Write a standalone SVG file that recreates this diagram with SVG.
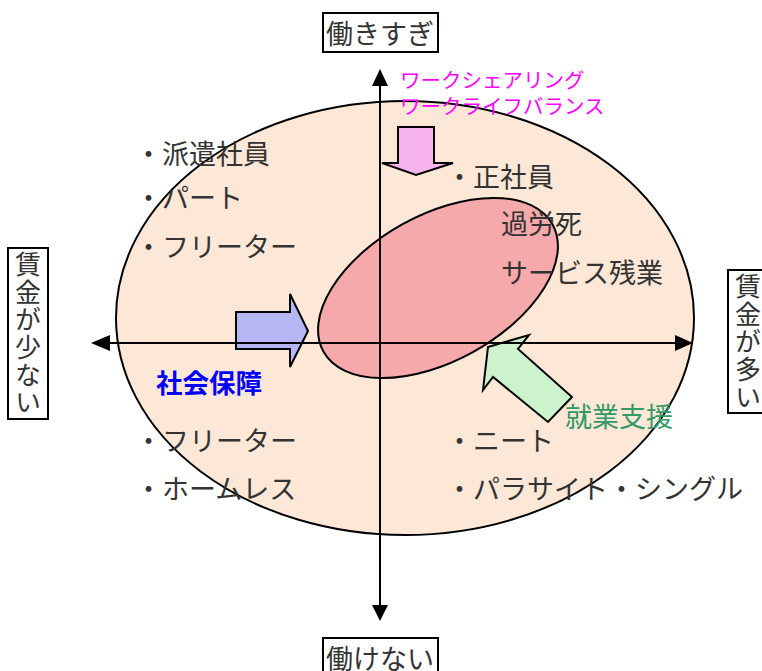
<svg xmlns="http://www.w3.org/2000/svg" width="762" height="671" viewBox="0 0 762 671">
<style>
.t{font-family:"Noto Sans CJK JP","Noto Sans",sans-serif;font-size:27px;fill:#333;}
.v{font-family:"Noto Sans CJK JP","Noto Sans",sans-serif;font-size:26px;fill:#333;writing-mode:vertical-rl;letter-spacing:1.7px;}
.m{font-family:"Noto Sans CJK JP","Noto Sans",sans-serif;font-size:20.5px;fill:#ff00ff;}
.box{fill:#fff;stroke:#000;stroke-width:2;}
.ax{stroke:#000;stroke-width:2;fill:none;}
.arr{stroke:#000;stroke-width:2;stroke-linejoin:miter;}
</style>
<rect width="762" height="671" fill="#fff"/>

<g id="outer-ellipse">
<ellipse cx="405" cy="318" rx="289" ry="217" fill="#fde8d8" stroke="#000" stroke-width="2"/>
</g>
<g id="inner-ellipse">
<ellipse cx="438" cy="288" rx="131" ry="73" transform="rotate(-29 438 288)" fill="#f5a9aa" stroke="#000" stroke-width="2"/>
</g>

<g id="arrow-pink">
<polygon class="arr" points="398,127 434,127 434,163 453,163 416,175 382,163 398,163" fill="#f7b3ec"/>
</g>
<g id="arrow-blue">
<polygon class="arr" points="236,312 290,312 290,294 308,331 290,367 290,349 236,349" fill="#b6b6f2"/>
</g>
<g id="arrow-green">
<polygon class="arr" points="488,347 529,335 518,349 572,397 548,422 493,377 483,390" fill="#cdf3cd"/>
</g>

<g id="connectors">
<line class="ax" x1="380" y1="80" x2="380" y2="606"/>
<polygon points="380,69 372,86 388,86" fill="#000"/>
<polygon points="380,621 372,605 388,605" fill="#000"/>
<line class="ax" x1="104" y1="343" x2="680" y2="343"/>
<polygon points="91,343 110,335 110,351" fill="#000"/>
<polygon points="693,343 675,335 675,351" fill="#000"/>
</g>

<g id="label-top">
<rect class="box" x="323" y="13" width="115" height="39"/>
<text class="t" x="326" y="44">働きすぎ</text>
</g>
<g id="label-bottom">
<rect class="box" x="323" y="638" width="115" height="40"/>
<text class="t" x="326" y="669">働けない</text>
</g>
<g id="label-left">
<rect class="box" x="8" y="248" width="40" height="171"/>
<text class="v" x="28" y="251">賃金が少ない</text>
</g>
<g id="label-right">
<rect class="box" x="728" y="270" width="40" height="143"/>
<text class="v" x="748" y="273">賃金が多い</text>
</g>

<g id="magenta-text">
<text class="m"><tspan x="400" y="88">ワークシェアリング</tspan><tspan x="400" y="114">ワークライフバランス</tspan></text>
</g>

<g id="left-upper">
<text class="t" x="135" y="164">・派遣社員</text>
<text class="t" x="135" y="208">・パート</text>
<text class="t" x="135" y="257">・フリーター</text>
</g>
<g id="left-lower">
<text class="t" x="135" y="451">・フリーター</text>
<text class="t" x="135" y="499">・ホームレス</text>
</g>
<g id="right-upper">
<text class="t" x="446" y="187">・正社員</text>
<text class="t" x="501" y="234">過労死</text>
<text class="t" x="501" y="283">サービス残業</text>
</g>
<g id="right-lower">
<text class="t" x="446" y="451">・ニート</text>
<text class="t" x="446" y="499">・パラサイト・シングル</text>
</g>
<g id="shakai-hosho">
<text x="156" y="393" style="font-family:'Noto Sans CJK JP','Noto Sans',sans-serif;font-size:26.5px;font-weight:bold;fill:#0000ff;">社会保障</text>
</g>
<g id="shugyo-shien">
<text x="565" y="427" style="font-family:'Noto Sans CJK JP','Noto Sans',sans-serif;font-size:27px;fill:#339966;">就業支援</text>
</g>
</svg>
